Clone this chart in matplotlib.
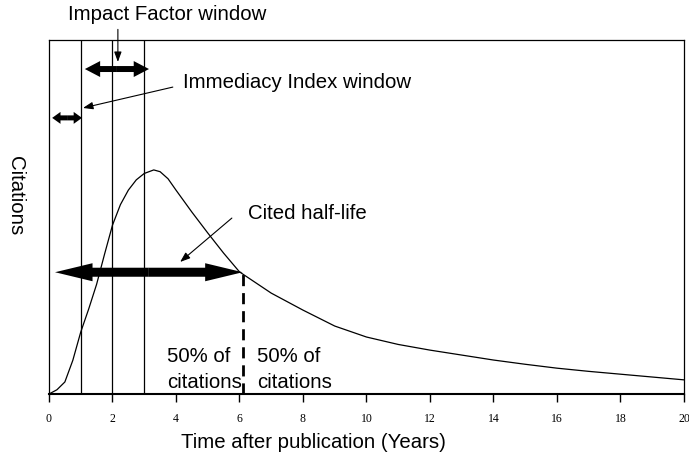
import matplotlib.pyplot as plt
import numpy as np

plt.rcParams['font.family'] = ['Liberation Sans', 'DejaVu Sans']

# citation curve (y scaled 0..100 to the box height)
years = [0, 0.25, 0.5, 0.75, 1, 1.25, 1.5, 1.75, 2, 2.25, 2.5, 2.75, 3, 3.3, 3.5,
         3.75, 4, 4.5, 5, 5.5, 6, 7, 8, 9, 10, 11, 12, 13, 14, 15, 16, 17, 18, 19, 20]
citations = [0, 1.2, 3.4, 9.5, 17.5, 24.0, 31.0, 39.5, 47.7, 53.5, 57.6, 60.5, 62.3, 63.3, 62.8,
             60.8, 57.6, 51.4, 45.5, 39.8, 34.5, 28.5, 23.7, 19.2, 16.1, 14.0, 12.4, 11.0, 9.6, 8.4,
             7.3, 6.4, 5.6, 4.8, 4.0]

window_lines = [1, 2, 3]
half_life = 6.1
xticks = [0, 2, 4, 6, 8, 10, 12, 14, 16, 18, 20]

fig = plt.figure(figsize=(6.89, 4.63), dpi=100)
ax = fig.add_axes([0.0711, 0.149, 0.9216, 0.7646])

ax.plot(years, citations, color='black', lw=0.9)
for x in window_lines:
  ax.axvline(x, color='black', lw=0.9)
ax.plot([half_life, half_life], [0, 34.5], color='black', lw=2, ls=(0, (4, 2.5)))

ax.set_xlim(0, 20)
ax.set_ylim(0, 100)
ax.set_yticks([])
ax.set_xticks(xticks)
ax.set_xticklabels([str(t) for t in xticks], family='Liberation Serif', fontsize=8.5)
ax.tick_params(axis='x', direction='out', length=6, width=1, pad=8)
for s in ['top', 'right', 'left']:
  ax.spines[s].set_linewidth(0.9)
ax.spines['bottom'].set_linewidth(1.5)

fs = 14.7
ax.set_xlabel('Time after publication (Years)', fontsize=fs)
ax.xaxis.set_label_coords(0.417, -0.11)
ax.set_ylabel('Citations', fontsize=fs, rotation=270, va='center')
ax.yaxis.set_label_coords(-0.0535, 0.559)

def double_arrow(x0, x1, y, tail, head_w, head_l):
  mid = (x0 + x1) / 2
  for end in (x0, x1):
    ax.annotate('', xy=(end, y), xytext=(mid, y), annotation_clip=False,
                arrowprops=dict(arrowstyle=f'simple,head_width={head_w},head_length={head_l},tail_width={tail}',
                                mutation_scale=1, lw=0, color='black', shrinkA=0, shrinkB=0))

def pointer(x0, y0, x1, y1):
  ax.annotate('', xy=(x1, y1), xytext=(x0, y0), annotation_clip=False,
              arrowprops=dict(arrowstyle='-|>,head_width=0.22,head_length=0.6',
                              lw=0.8, color='black', shrinkA=0, shrinkB=0))

# Impact Factor window
ax.text(3.72, 107.3, 'Impact Factor window', fontsize=fs, ha='center', va='center', clip_on=False)
pointer(2.17, 103.0, 2.17, 93.8)
double_arrow(1.13, 3.15, 91.8, 4.3, 11.5, 11)

# Immediacy Index window
ax.text(4.22, 88.1, 'Immediacy Index window', fontsize=fs, ha='left', va='center')
pointer(3.9, 86.7, 1.07, 80.8)
double_arrow(0.1, 1.04, 78.0, 3.6, 8.6, 6)

# Cited half-life
ax.text(6.27, 51.1, 'Cited half-life', fontsize=fs, ha='left', va='center')
pointer(5.76, 49.7, 4.13, 37.3)
double_arrow(0.19, 6.1, 34.4, 6.5, 13, 27)

ax.text(3.72, 7.0, '50% of\ncitations', fontsize=fs, ha='left', va='center', linespacing=1.45)
ax.text(6.55, 7.0, '50% of\ncitations', fontsize=fs, ha='left', va='center', linespacing=1.45)

fig.savefig('out.png', dpi=100)
